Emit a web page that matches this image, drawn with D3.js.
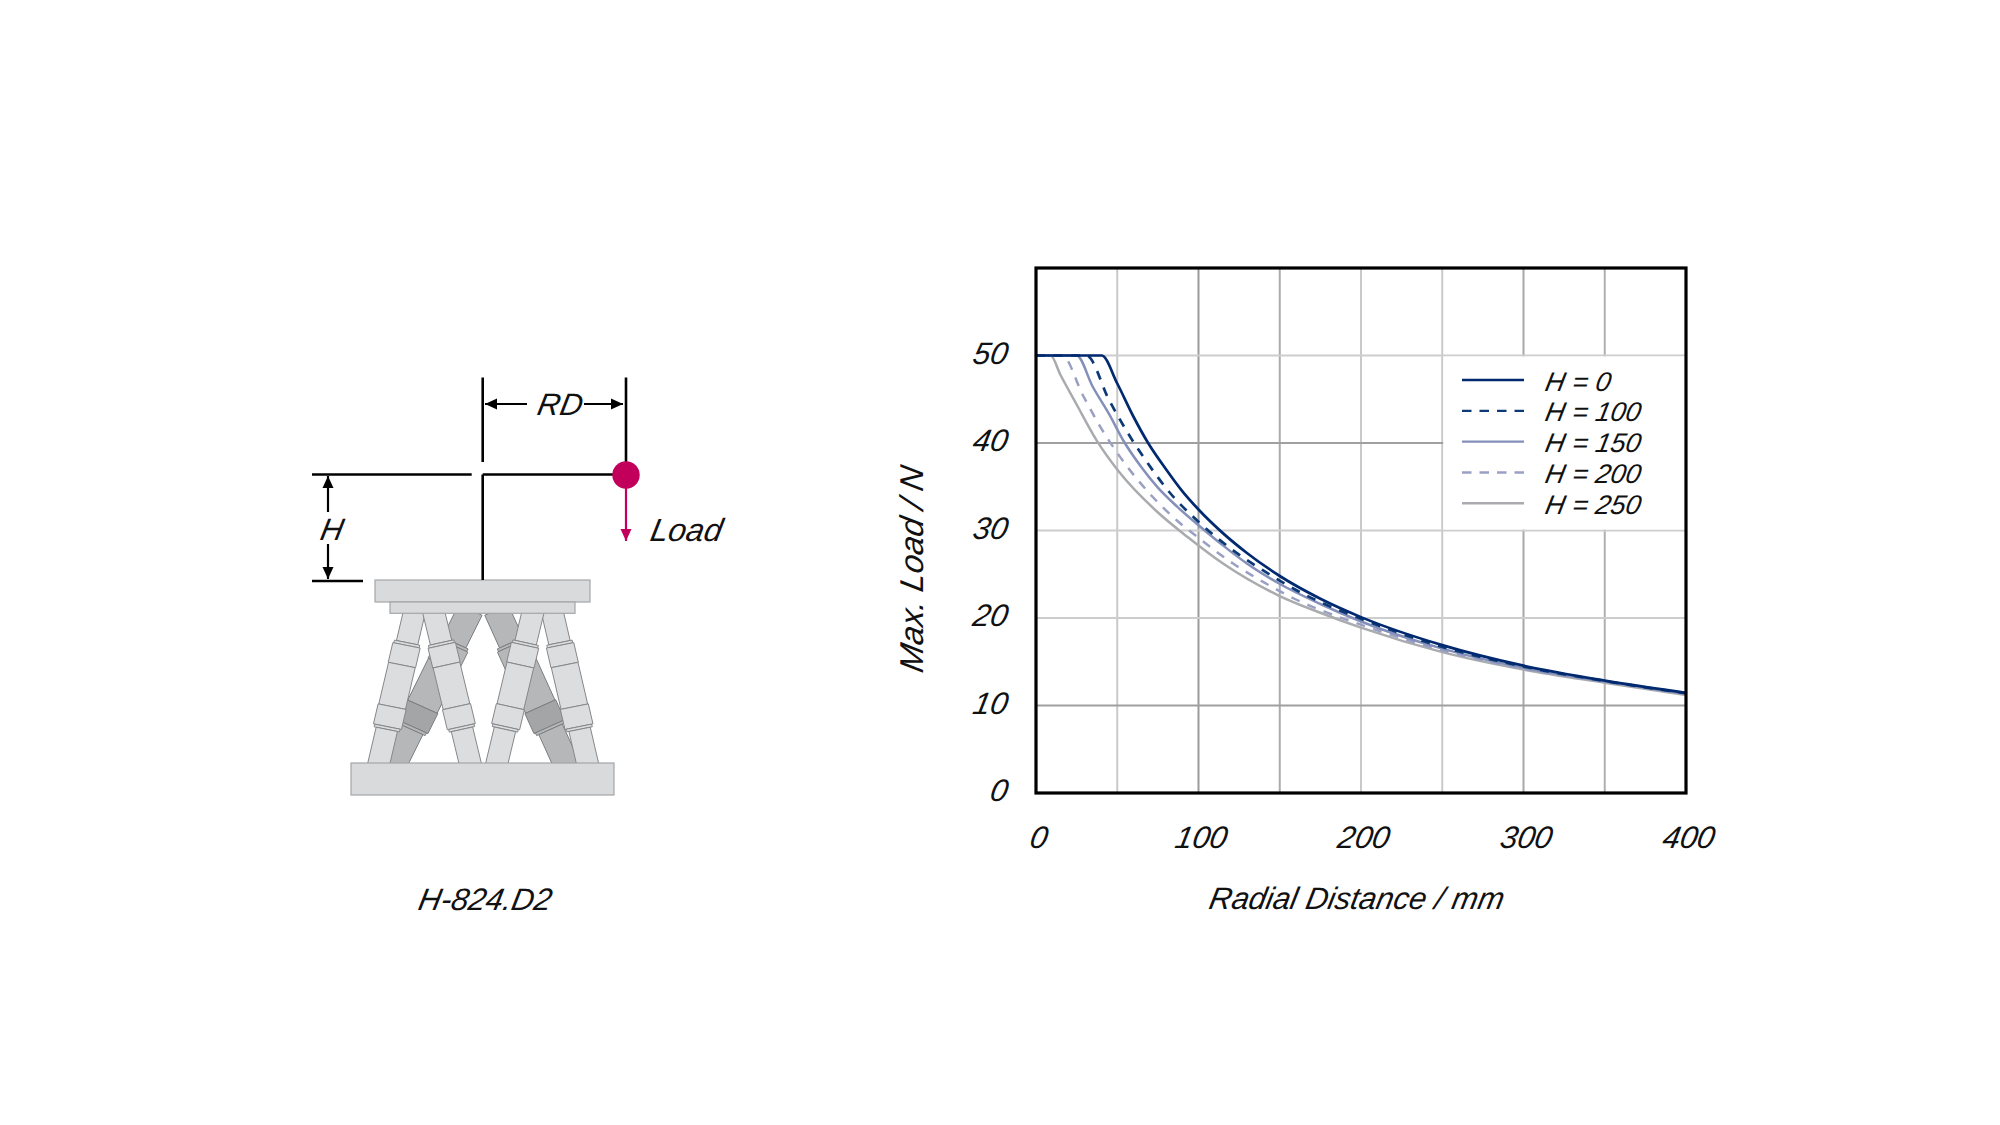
<!DOCTYPE html>
<html><head><meta charset="utf-8">
<script src="https://cdn.jsdelivr.net/npm/d3@7"></script>
<style>html,body{margin:0;background:#fff}svg{display:block}text{font-family:"Liberation Sans",Arial,sans-serif;font-style:italic;fill:#111}</style>
</head><body><svg id="c" width="2000" height="1125"></svg>
<script>
// ---- data ----
const xTicks = [0,100,200,300,400];
const yTicks = [0,10,20,30,40,50];
const legendLabels = ["H = 0","H = 100","H = 150","H = 200","H = 250"];
const seriesColors = ["#00296f","#0b3a76","#8490ba","#9aa0c4","#a9abae"];
const seriesDash = [null,"9 8.5",null,"9 8.5",null];
const h0x = [0,40.5,50,60,69,80,90,100,115,130,150,175,200,250,300,350,400];
const h0y = [50,50,46.8,43,40,37,34.5,32.4,29.7,27.4,24.8,22.2,20.1,16.9,14.55,12.85,11.45];
const h100x = [0,31,45,56,68,82,100,123,141,160,180,200,250,300,350,400];
const h100y = [50,50,44.9,41.3,37.9,34.4,31,27.5,25.3,23.2,21.4,19.9,16.7,14.45,12.8,11.4];
const h150x = [0,25,35,45,54,65,75,87,100,115,130,149,175,200,250,300,350,400];
const h150y = [50,50,46.4,43.3,40.2,37.2,34.9,32.7,30.6,28.3,26.2,24,21.6,19.6,16.5,14.3,12.75,11.35];
const h200x = [0,16,29,39.4,45.5,57.8,72,87.6,99,121.5,140,159,178,199,250,300,350,400];
const h200y = [50,50,45.4,41.9,40.1,36.9,33.8,31,29.3,26.2,24.1,22.2,20.7,19.3,16.3,14.2,12.7,11.3];
const h250x = [0,9,15,25,37.3,50.7,74.2,93.7,115.3,149,175,200,250,300,350,400];
const h250y = [50,50,47.8,44.4,40.3,36.8,32.2,29.2,26.2,22.6,20.6,18.9,16.1,14.1,12.6,11.2];
const gridXVals = [50,100,150,200,250,300,350];
const gridXCols = ["#c9c9c9","#9b9b9b","#ababab","#c9c9c9","#c9c9c9","#a8a8a8","#b0b0b0"];
const gridYVals = [10,20,30,40,50];
const gridYCols = ["#9f9f9f","#cdcdcd","#cdcdcd","#a0a0a0","#cdcdcd"];
const allX = [h0x,h100x,h150x,h200x,h250x];
const allY = [h0y,h100y,h150y,h200y,h250y];

const svg = d3.select("#c");
const x = d3.scaleLinear().domain([0,400]).range([1036,1686]);
const y = d3.scaleLinear().domain([0,60]).range([793,268]);
const SK = -11;

// ---- grid ----
const g = svg.append("g");
g.selectAll(".gx").data(gridXVals).join("line").attr("x1",d=>x(d)).attr("x2",d=>x(d))
 .attr("y1",y(60)).attr("y2",y(0)).attr("stroke",(d,i)=>gridXCols[i]).attr("stroke-width",2);
g.selectAll(".gy").data(gridYVals).join("line").attr("y1",d=>y(d)).attr("y2",d=>y(d))
 .attr("x1",x(0)).attr("x2",x(400)).attr("stroke",(d,i)=>gridYCols[i]).attr("stroke-width",2);
// legend panel hides grid
g.append("rect").attr("x",x(250)+1).attr("y",y(50)+1).attr("width",x(400)-x(250)-1).attr("height",y(30)-y(50)-2).attr("fill","#fff");

// ---- curves ----
const line = d3.line().x(d=>x(d[0])).y(d=>y(d[1])).curve(d3.curveMonotoneX);
[4,3,2,1,0].forEach(i=>{
  svg.append("path").datum(d3.zip(allX[i],allY[i])).attr("d",line).attr("fill","none")
    .attr("stroke",seriesColors[i]).attr("stroke-width",i<2?2.7:2.5)
    .attr("stroke-dasharray",seriesDash[i]);
});
// frame
svg.append("rect").attr("x",x(0)).attr("y",y(60)).attr("width",x(400)-x(0)).attr("height",y(0)-y(60))
 .attr("fill","none").attr("stroke","#000").attr("stroke-width",3.2);

// ---- axes (labels only) ----
const ax = svg.append("g").attr("transform","translate(0,848)")
 .call(d3.axisBottom(x).tickValues(xTicks).tickSize(0).tickPadding(0).tickFormat(d3.format("d")));
ax.select(".domain").remove();
ax.selectAll("text").attr("y",0).attr("dy",0).attr("x",0).attr("transform",`translate(0.5,0) skewX(${SK})`)
 .style("font-size","31px").style("font-family",'"Liberation Sans"').attr("text-anchor","middle");
const ay = svg.append("g").attr("transform","translate(1008,0)")
 .call(d3.axisLeft(y).tickValues(yTicks).tickSize(0).tickPadding(0).tickFormat(d3.format("d")));
ay.select(".domain").remove();
ay.selectAll("text").attr("x",0).attr("dy",0).attr("y",0).attr("transform",`translate(-2,7.5) skewX(${SK})`)
 .style("font-size","31px").style("font-family",'"Liberation Sans"').attr("text-anchor","end");

svg.append("text").attr("transform",`translate(1355,908.5) skewX(${SK})`).attr("text-anchor","middle").attr("font-size",31).text("Radial Distance / mm");
svg.append("text").attr("transform",`translate(923,571) rotate(-90) skewX(${SK})`).attr("text-anchor","middle").attr("font-size",33).text("Max. Load / N");

// ---- legend ----
const legY = d3.scalePoint().domain(legendLabels).range([380,503.3]);
legendLabels.forEach((l,i)=>{
  svg.append("line").attr("x1",1462).attr("x2",1524).attr("y1",legY(l)).attr("y2",legY(l))
    .attr("stroke",seriesColors[i]).attr("stroke-width",2.4).attr("stroke-dasharray",seriesDash[i]?"9.5 8":null);
  svg.append("text").attr("transform",`translate(1544,${legY(l)+10.5}) skewX(${SK})`).attr("font-size",27).text(l);
});

// ---- illustration: hexapod ----
const d = svg.append("g");
function leg(topC,botC,tilt,fill,fillDark,scaleW,edge){
  const Z=(zx,zy)=>[380+zx/3,600+zy/3];
  const cx=zy=>topC+(botC-topC)*(zy-40)/(488-40);
  const segs=[[30,128,64,fill],[128,136,76,fill],[136,195,82,fill],[195,320,80,fill],[320,380,84,fillDark],[380,388,76,fill],[388,500,64,fill]];
  segs.forEach(s=>{
    const [a,b,w0,f]=s, w=w0*scaleW;
    const pts=[[cx(a)-w/2,a-tilt*w/2],[cx(a)+w/2,a+tilt*w/2],[cx(b)+w/2,b+tilt*w/2],[cx(b)-w/2,b-tilt*w/2]].map(p=>Z(p[0],p[1]));
    d.append("polygon").attr("points",pts.join(" ")).attr("fill",f).attr("stroke",edge).attr("stroke-width",1);
  });
}
leg(266,44,0.45,"#b6b7b9","#a3a5a7",1.1,"#7b7d80");
leg(354,557,-0.45,"#b6b7b9","#a3a5a7",1.1,"#7b7d80");
leg(102,-3,0.2,"#dcddde","#dcddde",1,"#85878a");
leg(518,622,-0.2,"#dcddde","#dcddde",1,"#85878a");
leg(162,270,-0.22,"#dcddde","#dcddde",1,"#85878a");
leg(458,351,0.22,"#dcddde","#dcddde",1,"#85878a");
[[375,580,215,22],[390,602,185,11.3],[351,763,263,32]].forEach(r=>{
  d.append("rect").attr("x",r[0]).attr("y",r[1]).attr("width",r[2]).attr("height",r[3])
   .attr("fill","#d9dadb").attr("stroke","#a4a6a8").attr("stroke-width",1.2);
});
const bl=[[482.7,377.5,482.7,462],[626,377.5,626,462],[312,474.5,471.7,474.5],[482.7,474.5,613,474.5],[482.7,474.5,482.7,580],[312,581,363,581]];
bl.forEach(l=>d.append("line").attr("x1",l[0]).attr("y1",l[1]).attr("x2",l[2]).attr("y2",l[3]).attr("stroke","#000").attr("stroke-width",2.6));
function arrow(x1,y1,x2,y2,col){
  d.append("line").attr("x1",x1).attr("y1",y1).attr("x2",x2).attr("y2",y2).attr("stroke",col).attr("stroke-width",2.2);
  const a=Math.atan2(y2-y1,x2-x1),L=12,W=5.5;
  const bx=x2-L*Math.cos(a),by=y2-L*Math.sin(a);
  d.append("polygon").attr("points",[[x2,y2],[bx-W*Math.sin(a),by+W*Math.cos(a)],[bx+W*Math.sin(a),by-W*Math.cos(a)]].join(" ")).attr("fill",col);
}
arrow(527,404,485,404,"#000");arrow(584,404,623,404,"#000");
arrow(328,512,328,476,"#000");arrow(328,544,328,579,"#000");
arrow(626,486,626,541,"#c2005c");
d.append("circle").attr("cx",626).attr("cy",475).attr("r",13.7).attr("fill","#c2005c");
[["RD",536,415,31],["H",319,540,31],["Load",649,541,32],["H-824.D2",417,910,31]].forEach(t=>{
  d.append("text").attr("transform",`translate(${t[1]},${t[2]}) skewX(${SK})`).attr("font-size",t[3]).text(t[0]);
});
</script></body></html>
